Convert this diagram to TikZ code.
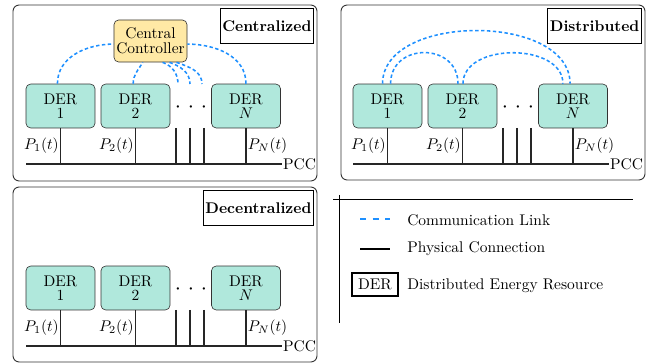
\documentclass[tikz,border=0pt]{standalone}
\usepackage{amsmath,amssymb}
\usepackage{xcolor}
\usepackage{tikz}
\definecolor{derfill}{RGB}{176,232,220}
\definecolor{ctrlfill}{RGB}{255,233,165}
\definecolor{linkblue}{RGB}{30,144,255}
% one row of DERs on the PCC bus, node names start with #1
\newcommand{\derrow}[1]{%
  \node[der] (#1d1) at (60.5,106) {DER\\[-3pt]1};
  \node[der] (#1d2) at (135.5,106) {DER\\[-3pt]2};
  \node[der] (#1dn) at (246,106) {DER\\[-3pt]$N$};
  \node[anchor=base,inner sep=0pt,font=\Large] (#1dots) at (191,112.6) {$\cdot$\hspace{4.4pt}$\cdot$\hspace{4.4pt}$\cdot$};
  \coordinate (#1bl) at (26,164);
  \coordinate (#1br) at (282,164);
  \coordinate (#1s1) at (176,128);
  \coordinate (#1s2) at (190,128);
  \coordinate (#1s3) at (204,128);
  \draw[phys] (#1bl) -- (#1br);
  \draw[phys] (#1d1) -- (#1d1 |- #1bl);
  \draw[phys] (#1d2) -- (#1d2 |- #1bl);
  \draw[phys] (#1dn) -- (#1dn |- #1bl);
  \draw[phys] (#1s1) -- (#1s1 |- #1bl);
  \draw[phys] (#1s2) -- (#1s2 |- #1bl);
  \draw[phys] (#1s3) -- (#1s3 |- #1bl);
  \node[plab,anchor=east] (#1p1) at (60.5,145.5) {$P_1(t)$};
  \node[plab,anchor=east] (#1p2) at (135.5,145.5) {$P_2(t)$};
  \node[plab,anchor=west] (#1pn) at (246,145.5) {$P_N(t)$};
  \node[plab,anchor=west,inner sep=0.5pt] (#1pcc) at (#1br) {PCC};
}

\begin{document}
\begin{tikzpicture}[x=0.6465pt,y=-0.6465pt,
 der/.style={draw=black!80,fill=derfill,rounded corners=3pt,align=center,
   minimum width=44.6pt,minimum height=28.4pt,inner sep=0pt},
 ctrl/.style={draw=black!80,fill=ctrlfill,rounded corners=3pt,align=center,
   minimum width=47.2pt,minimum height=27.2pt,inner sep=0pt},
 lbl/.style={draw,font=\bfseries,minimum height=22.6pt,inner xsep=1.5pt},
 panel/.style={draw=black!80,rounded corners=4pt,line width=0.6pt},
 phys/.style={draw=black!85,line width=0.7pt},
 link/.style={draw=linkblue,line width=1pt,dash pattern=on 2.2pt off 1.6pt},
 plab/.style={inner sep=1pt}]
\useasboundingbox (0,0) rectangle (653,363);

% centralized
\draw[panel] (13,5) rectangle (317,181);
\node[lbl,anchor=north east] (tcen) at (314,8) {Centralized};
\derrow{c-}
\node[ctrl] (cc) at (150.5,41) {Central\\[-2.5pt]Controller};
\coordinate (c-t1) at (178,84);
\coordinate (c-t2) at (190,84);
\coordinate (c-t3) at (202,84);
\draw[link] ([xshift=-2pt]c-d1.north) to[out=90,in=180] ([yshift=-2pt]cc.west);
\draw[link] ([xshift=-1.5pt]c-d2.north) to[out=90,in=-120] ([xshift=-5pt]cc.south);
\draw[link] ([xshift=7.8pt]cc.south) to[out=-20,in=90] (c-t1);
\draw[link] ([xshift=12.3pt]cc.south) to[out=-20,in=90] (c-t2);
\draw[link] ([xshift=16.8pt]cc.south) to[out=-20,in=90] (c-t3);
\draw[link] (c-dn.north) to[out=90,in=0] ([yshift=-2pt]cc.east);

% distributed
\draw[panel] (341,5) rectangle (645,180);
\node[lbl,anchor=north east] (tdis) at (642,8) {Distributed};
\begin{scope}[shift={(327,0)}]
\derrow{d-}
\end{scope}
\draw[link] ([xshift=2pt]d-d1.north) to[out=90,in=90,looseness=1.58] ([xshift=-2.9pt]d-d2.north);
\draw[link] ([xshift=0.3pt]d-d2.north) to[out=90,in=90,looseness=1.06] ([xshift=-6.5pt]d-dn.north);
\draw[link] ([xshift=-3.2pt]d-d1.north) to[out=90,in=90,looseness=0.97] ([xshift=-1.9pt]d-dn.north);

% decentralized
\draw[panel] (13,187) rectangle (317,362);
\node[lbl,anchor=north east] (tdec) at (314,190) {Decentralized};
\begin{scope}[shift={(0,182)}]
\derrow{e-}
\end{scope}

% legend
\draw[line width=0.6pt] (333,199) -- (633,199);
\draw[line width=0.6pt] (339,195) -- (339,323);
\draw[link,line width=1.3pt,dash pattern=on 3.9pt off 4.2pt] (360,219) -- (390,219);
\draw[line width=1.6pt] (360,249) -- (390,249);
\node[draw,line width=1pt,minimum width=29.7pt,minimum height=14.9pt,inner sep=0pt] (lder) at (375,284.5) {DER};
\node[anchor=base west,inner sep=0pt] (lcom) at (407,225.7) {Communication Link};
\node[anchor=base west,inner sep=0pt] (lphy) at (407,252.5) {Physical Connection};
\node[anchor=base west,inner sep=0pt] (lres) at (407,290) {Distributed Energy Resource};
\end{tikzpicture}
\end{document}
